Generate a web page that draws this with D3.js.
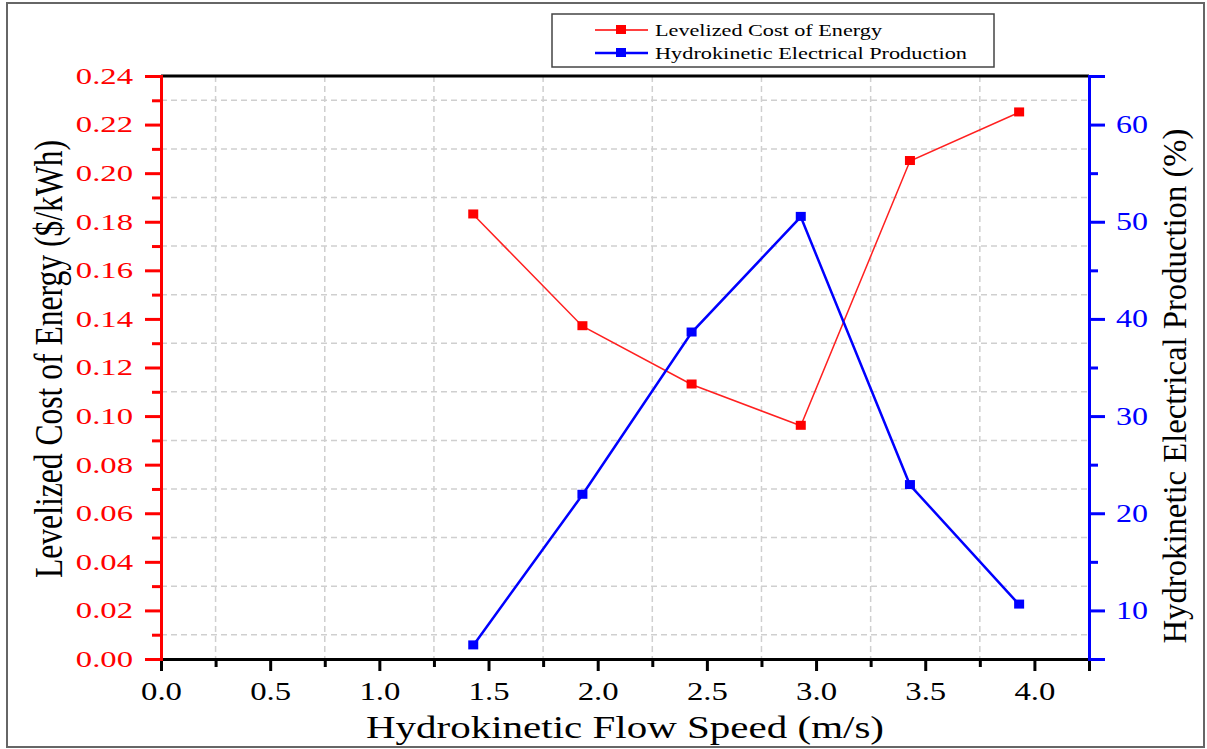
<!DOCTYPE html>
<html>
<head>
<meta charset="utf-8">
<script src="https://cdn.jsdelivr.net/npm/d3@7"></script>
<style>
  body { margin: 0; background: #fff; }
  text { font-family: "Liberation Serif", "Times New Roman", serif; }
</style>
</head>
<body>
<div class="chart"></div>
<script>
// values
var flowSpeed = [1.43, 1.93, 2.43, 2.93, 3.43, 3.93];
var lcoe = [0.183, 0.137, 0.113, 0.096, 0.205, 0.225];
var production = [6.4, 21.9, 38.6, 50.5, 22.9, 10.6];
var xTicks = [0, 0.5, 1, 1.5, 2, 2.5, 3, 3.5, 4];
var lcoeTicks = [0, 0.02, 0.04, 0.06, 0.08, 0.10, 0.12, 0.14, 0.16, 0.18, 0.20, 0.22, 0.24];
var prodTicks = [10, 20, 30, 40, 50, 60];
var seriesNames = ["Levelized Cost of Energy", "Hydrokinetic Electrical Production"];

var width = 1207,
    height = 749,
    plot = {left: 161, right: 1089, top: 76, bottom: 659};

var svg = d3.select("div.chart").append("svg")
    .attr("width", width)
    .attr("height", height);

var x = d3.scaleLinear().domain([0, 4.25]).range([plot.left, plot.right]);
var yL = d3.scaleLinear().domain([0, 0.24]).range([plot.bottom, plot.top]);
var yR = d3.scaleLinear().domain([5, 65]).range([plot.bottom, plot.top]);

// minor positions (grid sits on these)
var xMinor = d3.range(0.25, 4.26, 0.5);
var yMinor = d3.range(0.01, 0.24, 0.02);
var rMinor = d3.range(5, 66, 10);

// outer frame
svg.append("rect")
    .attr("x", 7).attr("y", 3)
    .attr("width", 1197).attr("height", 744)
    .attr("fill", "none")
    .attr("stroke", "#666")
    .attr("stroke-width", 2);

// grid
var grid = svg.append("g").attr("class", "grid")
    .attr("stroke", "#cfcfcf")
    .attr("stroke-width", 1.5)
    .attr("stroke-dasharray", "6,4");

grid.selectAll("line.v").data(xMinor).enter().append("line")
    .attr("class", "v")
    .attr("x1", d => x(d)).attr("x2", d => x(d))
    .attr("y1", plot.top).attr("y2", plot.bottom);

grid.selectAll("line.h").data(yMinor).enter().append("line")
    .attr("class", "h")
    .attr("x1", plot.left).attr("x2", plot.right)
    .attr("y1", d => yL(d)).attr("y2", d => yL(d));

// top frame line
svg.append("line")
    .attr("x1", plot.left).attr("x2", plot.right)
    .attr("y1", plot.top).attr("y2", plot.top)
    .attr("stroke", "#000")
    .attr("stroke-width", 3);

// stretch tick labels sideways like the original
function stretch(sel, ratio) {
    sel.each(function() {
        var w = this.getComputedTextLength();
        d3.select(this)
            .attr("textLength", w * ratio)
            .attr("lengthAdjust", "spacingAndGlyphs");
    });
}

// bottom axis
var xAxisMinor = svg.append("g")
    .attr("transform", "translate(0," + plot.bottom + ")")
    .call(d3.axisBottom(x).tickValues(xMinor).tickSize(8).tickFormat(""));
var xAxis = svg.append("g")
    .attr("transform", "translate(0," + plot.bottom + ")")
    .call(d3.axisBottom(x).tickValues(xTicks).tickSize(12).tickPadding(11).tickFormat(d3.format(".1f")));

[xAxisMinor, xAxis].forEach(function(g) {
    g.select(".domain").attr("stroke", "#000").attr("stroke-width", 3);
    g.selectAll(".tick line").attr("stroke", "#000").attr("stroke-width", 3);
});
xAxis.selectAll("text")
    .attr("fill", "#000")
    .style("font-size", "26px")
    .call(stretch, 1.26);

// left axis (red)
var yAxisMinor = svg.append("g")
    .attr("transform", "translate(" + plot.left + ",0)")
    .call(d3.axisLeft(yL).tickValues(yMinor).tickSize(9).tickFormat(""));
var yAxis = svg.append("g")
    .attr("transform", "translate(" + plot.left + ",0)")
    .call(d3.axisLeft(yL).tickValues(lcoeTicks).tickSize(16).tickPadding(12).tickFormat(d3.format(".2f")));

[yAxisMinor, yAxis].forEach(function(g) {
    g.select(".domain").attr("stroke", "#ff0000").attr("stroke-width", 3);
    g.selectAll(".tick line").attr("stroke", "#ff0000").attr("stroke-width", 3);
});
yAxis.selectAll("text")
    .attr("fill", "#ff0000")
    .style("font-size", "23px")
    .call(stretch, 1.42);

// right axis (blue)
var rAxisMinor = svg.append("g")
    .attr("transform", "translate(" + plot.right + ",0)")
    .call(d3.axisRight(yR).tickValues(rMinor).tickSize(9).tickFormat(""));
var rAxis = svg.append("g")
    .attr("transform", "translate(" + plot.right + ",0)")
    .call(d3.axisRight(yR).tickValues(prodTicks).tickSize(16).tickPadding(11));

[rAxisMinor, rAxis].forEach(function(g) {
    g.select(".domain").attr("stroke", "#0000ff").attr("stroke-width", 3);
    g.selectAll(".tick line").attr("stroke", "#0000ff").attr("stroke-width", 3);
});
rAxis.selectAll("text")
    .attr("fill", "#0000ff")
    .style("font-size", "25px")
    .call(stretch, 1.28);

// series
var redLine = d3.line()
    .x((d, i) => x(flowSpeed[i]))
    .y(d => yL(d));
var blueLine = d3.line()
    .x((d, i) => x(flowSpeed[i]))
    .y(d => yR(d));

svg.append("path")
    .datum(lcoe)
    .attr("d", redLine)
    .attr("fill", "none")
    .attr("stroke", "#ff2020")
    .attr("stroke-width", 1.5);

svg.append("path")
    .datum(production)
    .attr("d", blueLine)
    .attr("fill", "none")
    .attr("stroke", "#0000ff")
    .attr("stroke-width", 2.5);

svg.selectAll("rect.red").data(lcoe).enter().append("rect")
    .attr("class", "red")
    .attr("x", (d, i) => x(flowSpeed[i]) - 5)
    .attr("y", d => yL(d) - 5)
    .attr("width", 10).attr("height", 9)
    .attr("fill", "#ff0000");

svg.selectAll("rect.blue").data(production).enter().append("rect")
    .attr("class", "blue")
    .attr("x", (d, i) => x(flowSpeed[i]) - 5)
    .attr("y", d => yR(d) - 5)
    .attr("width", 10).attr("height", 9)
    .attr("fill", "#0000ff");

// axis titles
svg.append("text")
    .attr("x", (plot.left + plot.right) / 2)
    .attr("y", 738)
    .attr("text-anchor", "middle")
    .attr("textLength", 518)
    .attr("lengthAdjust", "spacingAndGlyphs")
    .style("font-size", "32px")
    .text("Hydrokinetic Flow Speed (m/s)");

svg.append("text")
    .attr("transform", "translate(62,359) rotate(-90)")
    .attr("text-anchor", "middle")
    .attr("textLength", 438)
    .attr("lengthAdjust", "spacingAndGlyphs")
    .style("font-size", "41px")
    .text("Levelized Cost of Energy ($/kWh)");

svg.append("text")
    .attr("transform", "translate(1186,386) rotate(-90)")
    .attr("text-anchor", "middle")
    .attr("textLength", 515)
    .attr("lengthAdjust", "spacingAndGlyphs")
    .style("font-size", "34px")
    .text("Hydrokinetic Electrical Production (%)");

// legend
var legend = svg.append("g").attr("class", "legend");

legend.append("rect")
    .attr("x", 552).attr("y", 14)
    .attr("width", 442).attr("height", 53)
    .attr("fill", "#fff")
    .attr("stroke", "#444")
    .attr("stroke-width", 1.5);

var legendColors = ["#ff0000", "#0000ff"],
    legendWidths = [1.5, 2.5],
    textWidths = [227, 312];

seriesNames.forEach(function(name, i) {
    var ly = 30 + i * 23;
    legend.append("line")
        .attr("x1", 595).attr("x2", 648)
        .attr("y1", ly).attr("y2", ly)
        .attr("stroke", legendColors[i])
        .attr("stroke-width", legendWidths[i]);
    legend.append("rect")
        .attr("x", 616).attr("y", ly - 5)
        .attr("width", 10).attr("height", 9)
        .attr("fill", legendColors[i]);
    legend.append("text")
        .attr("x", 655)
        .attr("y", ly + 6)
        .attr("textLength", textWidths[i])
        .attr("lengthAdjust", "spacingAndGlyphs")
        .style("font-size", "17px")
        .text(name);
});
</script>
</body>
</html>
